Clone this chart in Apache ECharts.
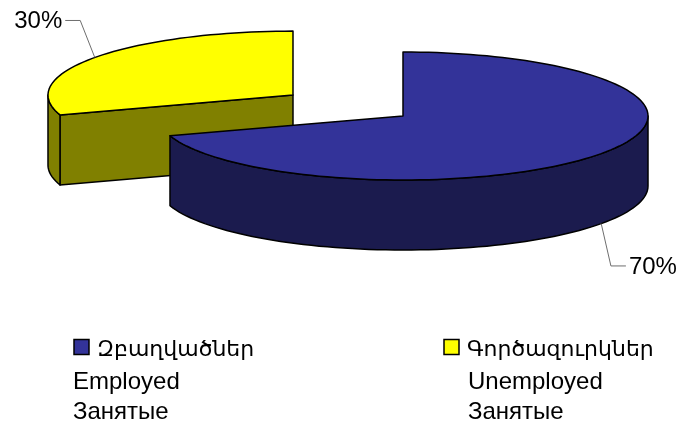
<!DOCTYPE html>
<html>
<head>
<meta charset="utf-8">
<style>html,body{margin:0;padding:0;background:#fff}#main{width:677px;height:427px}</style>
<script src="https://cdn.jsdelivr.net/npm/echarts@6/dist/echarts.min.js"></script>
</head>
<body>
<div id="main"></div>
<script>
// legend lines, one entry per slice
const namesArm = ['Զբաղվածներ', 'Գործազուրկներ'];
const namesEng = ['Employed', 'Unemployed'];
const namesRus = ['Занятые', 'Занятые'];
const shares = [70, 30];

// look of the pie
const topColours = ['#333399', '#ffff00'];
const sideColours = ['#1b1b4e', '#808000'];
const explode = [0, 0.555];
const pie = { cx: 403, cy: 116, rx: 245, ry: 64, depth: 70 };
const FONT = 'Arial, "Liberation Sans", "DejaVu Sans", sans-serif';

const total = shares.reduce((a, b) => a + b, 0);
const startAngles = [];
let acc = 0;
shares.forEach(v => { startAngles.push(acc / total * 360); acc += v; });

function rad(d) { return d * Math.PI / 180; }
// angle in degrees, clockwise from 12 o'clock
function pt(c, a, yoff) {
    return [c[0] + pie.rx * Math.sin(rad(a)), c[1] - pie.ry * Math.cos(rad(a)) + (yoff || 0)];
}
function arc(c, a0, a1, yoff) {
    const pts = [];
    const n = Math.max(2, Math.ceil(Math.abs(a1 - a0) / 2));
    for (let i = 0; i <= n; i++) pts.push(pt(c, a0 + (a1 - a0) * i / n, yoff));
    return pts;
}

// slices further back are drawn first
const midAngles = shares.map((v, i) => startAngles[i] + v / total * 180);
const offsetsY = midAngles.map((m, i) => -pie.ry * explode[i] * Math.cos(rad(m)));
const drawRank = offsetsY.map(y => offsetsY.filter(o => o < y).length);

function renderSlice(params, api) {
    const i = params.dataIndex;
    const value = api.value(0);
    const s = startAngles[i];
    const e = s + value / total * 360;
    const mid = (s + e) / 2;
    const c = [pie.cx + pie.rx * explode[i] * Math.sin(rad(mid)), pie.cy + offsetsY[i]];
    const d = pie.depth;
    const z = drawRank[i] * 10;
    const side = { fill: sideColours[i], stroke: '#000', lineWidth: 1.5, lineJoin: 'round' };
    const children = [];

    // radial faces, only when facing the viewer
    if (Math.cos(rad(s - 90)) < -1e-6) {
        children.push({ type: 'polygon', z2: z, shape: { points: [c, pt(c, s), pt(c, s, d), [c[0], c[1] + d]] }, style: side });
    }
    if (Math.cos(rad(e + 90)) < -1e-6) {
        children.push({ type: 'polygon', z2: z, shape: { points: [c, pt(c, e), pt(c, e, d), [c[0], c[1] + d]] }, style: side });
    }
    // outer wall on the front half
    const a0 = Math.max(s, 90), a1 = Math.min(e, 270);
    if (a0 < a1) {
        children.push({ type: 'polygon', z2: z + 1, shape: { points: arc(c, a0, a1, 0).concat(arc(c, a1, a0, d)) }, style: side });
    }
    // top
    children.push({
        type: 'polygon', z2: z + 2,
        shape: { points: [c].concat(arc(c, s, e, 0)) },
        style: { fill: topColours[i], stroke: '#000', lineWidth: 1.5, lineJoin: 'round' }
    });

    // percentage label with leader line
    const front = mid > 90 && mid < 270;
    const p0 = pt(c, mid, front ? d : 0);
    const lx = front ? 257 : 263, ly = front ? 136 : 127;
    const elbow = [c[0] + lx * Math.sin(rad(mid)), c[1] - ly * Math.cos(rad(mid)) + (front ? d : 0)];
    const dir = Math.sin(rad(mid)) >= 0 ? 1 : -1;
    const p2 = [elbow[0] + dir * 15, elbow[1]];
    children.push({ type: 'polyline', z2: 50, shape: { points: [p0, elbow, p2] }, style: { stroke: '#6e6e6e', lineWidth: 1, fill: null } });
    children.push({
        type: 'text', z2: 51,
        style: {
            text: Math.round(value / total * 100) + '%', x: p2[0] + dir * 3, y: p2[1] + 1,
            align: dir > 0 ? 'left' : 'right', verticalAlign: 'middle',
            font: '24px ' + FONT, fill: '#000'
        }
    });
    return { type: 'group', children: children };
}

// legend drawn as plain graphics: square + three language lines
const legendX = [73, 443];
const legendGraphics = [];
shares.forEach((v, i) => {
    const x0 = legendX[i];
    legendGraphics.push({ type: 'rect', shape: { x: x0 + 1, y: 339.5, width: 15, height: 15 }, style: { fill: topColours[i], stroke: '#000', lineWidth: 1.5 } });
    legendGraphics.push({ type: 'text', style: { text: namesArm[i], x: x0 + 24, y: 350, verticalAlign: 'middle', font: '22px ' + FONT, fill: '#000' } });
    const x2 = i === 0 ? x0 : x0 + 25;
    legendGraphics.push({ type: 'text', style: { text: namesEng[i], x: x2, y: 382, verticalAlign: 'middle', font: '24px ' + FONT, fill: '#000' } });
    legendGraphics.push({ type: 'text', style: { text: namesRus[i], x: x2, y: 412, verticalAlign: 'middle', font: '24px ' + FONT, fill: '#000' } });
});

const chart = echarts.init(document.getElementById('main'));
chart.setOption({
    animation: false,
    backgroundColor: '#fff',
    graphic: legendGraphics,
    series: [{
        type: 'custom',
        coordinateSystem: 'none',
        renderItem: renderSlice,
        data: shares.map((v, i) => ({ value: v, name: namesEng[i] }))
    }]
});
window.addEventListener('resize', () => { chart.resize(); });
</script>
</body>
</html>
